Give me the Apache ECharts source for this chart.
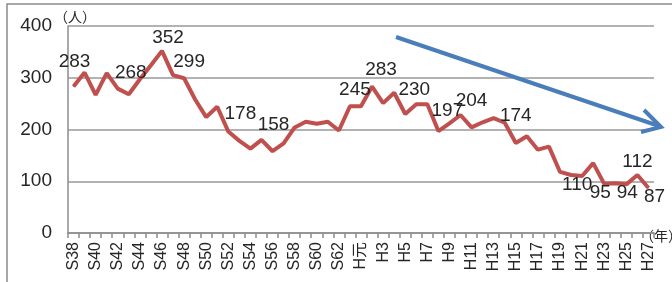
<!DOCTYPE html>
<html>
<head>
<meta charset="utf-8">
<script src="https://cdn.jsdelivr.net/npm/echarts@6/dist/echarts.min.js"></script>
<style>
  html, body { margin: 0; padding: 0; background: #fff; }
  #chart { width: 672px; height: 282px; }
</style>
</head>
<body>
<div id="chart"></div>
<script>
// 年 (昭和38年 ～ 平成27年)
const years = [
  "S38", "S39", "S40", "S41", "S42", "S43", "S44", "S45", "S46", "S47",
  "S48", "S49", "S50", "S51", "S52", "S53", "S54", "S55", "S56", "S57",
  "S58", "S59", "S60", "S61", "S62", "S63", "H元", "H2", "H3", "H4",
  "H5", "H6", "H7", "H8", "H9", "H10", "H11", "H12", "H13", "H14",
  "H15", "H16", "H17", "H18", "H19", "H20", "H21", "H22", "H23", "H24",
  "H25", "H26", "H27"
];
// 人数
const persons = [
  283, 310, 267, 309, 279, 268, 297, 324, 352, 305,
  299, 258, 224, 244, 196, 178, 163, 180, 158, 173,
  204, 215, 211, 215, 198, 245, 245, 283, 251, 271,
  230, 249, 249, 197, 212, 228, 204, 214, 222, 213,
  174, 187, 161, 167, 118, 112, 110, 135, 95, 96,
  94, 112, 87
];
const yTicks = [0, 100, 200, 300, 400];

// ラベルを出す年と、その位置ずらし
const labelOffset = {
  "S38": [1, -25], "S43": [2, -22], "S46": [6, -13], "S48": [5, -17],
  "S53": [1, -27], "S56": [1, -26], "S63": [5, -16], "H2": [9, -17],
  "H5": [9, -24], "H8": [9, -20], "H11": [0, -27], "H15": [0, -27],
  "H21": [-5, 9], "H23": [-4, 9], "H25": [1, 8], "H26": [0, -13], "H27": [6, 9]
};

const FONT = "'Liberation Sans', Arial, sans-serif";

const seriesData = persons.map((v, i) => {
  const off = labelOffset[years[i]];
  return {
    value: v,
    label: off ? { show: true, position: "inside", offset: off } : { show: false }
  };
});

const chart = echarts.init(document.getElementById("chart"));
chart.setOption({
  animation: false,
  grid: { left: 68, right: 18, top: 26, bottom: 49 },
  xAxis: {
    type: "category",
    data: years,
    boundaryGap: true,
    axisLine: { lineStyle: { color: "#8c8c8c", width: 1.5 } },
    axisTick: { show: true, interval: 0, length: 5, lineStyle: { color: "#8c8c8c", width: 1.5 } },
    axisLabel: {
      interval: 1,
      rotate: 90,
      margin: 9,
      color: "#262626",
      fontSize: 16,
      fontFamily: "'Liberation Sans', 'Noto Sans CJK JP', sans-serif"
    }
  },
  yAxis: {
    type: "value",
    min: yTicks[0],
    max: yTicks[yTicks.length - 1],
    interval: 100,
    axisLine: { show: true, lineStyle: { color: "#8c8c8c", width: 1.5 } },
    axisTick: { show: false },
    splitLine: { lineStyle: { color: "#999", width: 1.5 } },
    axisLabel: {
      margin: 16,
      color: "#262626",
      fontSize: 19,
      fontFamily: FONT
    }
  },
  series: [
    {
      type: "line",
      data: seriesData,
      symbol: "circle",
      symbolSize: 1,
      showSymbol: true,
      itemStyle: { color: "#c0504d" },
      lineStyle: { color: "#c0504d", width: 4 },
      label: {
        color: "#262626",
        fontSize: 19,
        fontFamily: FONT
      },
      z: 3
    }
  ],
  graphic: [
    {
      type: "rect",
      shape: { x: 7, y: 4, width: 700, height: 300 },
      style: { fill: "none", stroke: "#8c8c8c", lineWidth: 1.5 },
      silent: true
    },
    {
      type: "text",
      left: 54, top: 10,
      style: { text: "（人）", fill: "#262626", font: "14px 'Noto Sans CJK JP', sans-serif" }
    },
    {
      type: "text",
      left: 640, top: 229,
      style: { text: "（年）", fill: "#262626", font: "14px 'Noto Sans CJK JP', sans-serif" }
    },
    {
      type: "line",
      shape: { x1: 396, y1: 37, x2: 659, y2: 126 },
      style: { stroke: "#4a7ebb", lineWidth: 4 },
      z: 10
    },
    {
      type: "polyline",
      shape: { points: [[644, 110], [661, 127], [641, 132]] },
      style: { stroke: "#4a7ebb", lineWidth: 4, fill: "none" },
      z: 10
    }
  ]
});
</script>
</body>
</html>
